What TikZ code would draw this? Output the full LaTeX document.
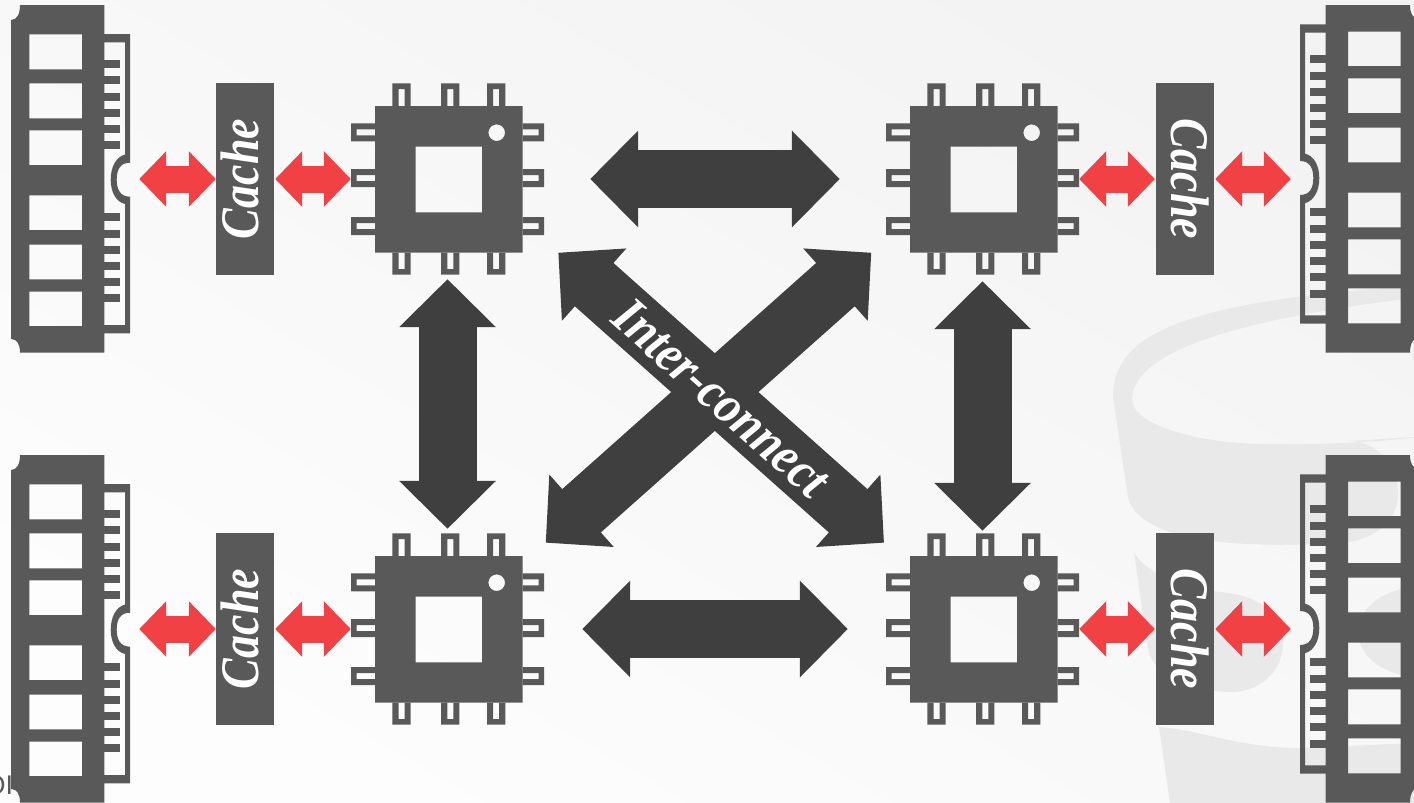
\documentclass[tikz,border=0pt]{standalone}
\usepackage{graphicx}
\usepackage{fontspec}
\setmainfont{Liberation Serif}
\setsansfont{Liberation Sans}
\usetikzlibrary{arrows.meta,positioning,calc}
\definecolor{chipgrey}{HTML}{595959}
\definecolor{arrowdark}{HTML}{3F3F3F}
\definecolor{linkred}{HTML}{F14145}
\definecolor{cupgrey}{HTML}{E9E9E9}
\definecolor{pagedark}{HTML}{F3F3F3}
\definecolor{pagelight}{HTML}{FDFDFD}

\begin{document}
\begin{tikzpicture}[
  x=1pt,
  y=-1pt,
  bigarrow/.style={
    line width=58pt,
    color=arrowdark,
    arrows={Triangle[length=48pt,width=94pt]-Triangle[length=48pt,width=94pt]}
  },
  redarrow/.style={
    line width=27pt,
    color=linkred,
    arrows={Triangle[length=27pt,width=54pt]-Triangle[length=27pt,width=54pt]}
  },
  chipnode/.style={
    minimum width=193pt,
    minimum height=192pt,
    inner sep=0pt
  },
  ramnode/.style={
    minimum width=119pt,
    minimum height=348pt,
    inner sep=0pt
  },
  cachebox/.style={
    fill=chipgrey,
    text=white,
    minimum width=192pt,
    minimum height=58pt,
    inner sep=0pt,
    text height=26.6pt,
    text depth=0pt,
    font=\fontsize{46pt}{50pt}\selectfont\bfseries\itshape
  },
  chipicon/.pic={
    \fill[chipgrey, even odd rule] (-72.5,-73) rectangle (75.2,73.7)
      (-31.8,-32.3) rectangle (34.5,33.3)
      (49.2,-46.3) circle (8.3pt);
    \foreach \pinpos in {-46,2.8,48.7} {
      \fill[chipgrey, even odd rule] (\pinpos-9.1,-95.7) rectangle (\pinpos+9.1,-73)
        (\pinpos-3,-90) rectangle (\pinpos+3,-73);
      \fill[chipgrey, even odd rule] (\pinpos-9.1,73.7) rectangle (\pinpos+9.1,95.5)
        (\pinpos-3,73.7) rectangle (\pinpos+3,90);
    }
    \foreach \pinpos in {-46.7,-1,47} {
      \fill[chipgrey, even odd rule] (-96.5,\pinpos-9) rectangle (-72.5,\pinpos+9)
        (-90.8,\pinpos-3) rectangle (-72.5,\pinpos+3);
      \fill[chipgrey, even odd rule] (75.2,\pinpos-9) rectangle (96.5,\pinpos+9)
        (75.2,\pinpos-3) rectangle (91.2,\pinpos+3);
    }
  },
  ramicon/.pic={
    \fill[chipgrey, even odd rule]
      (11,20) .. controls (17,20) and (20,14) .. (20,5) -- (104.3,5) -- (104.3,34) -- (130,34)
      -- (130,162.7) .. controls (120,162.7) and (116.7,170) .. (116.7,179.7)
      .. controls (116.7,189) and (120,196.7) .. (130,196.7)
      -- (130,333.3) -- (104.3,333.3) -- (104.3,352.7) -- (20,352.7)
      .. controls (20,344) and (17,339) .. (11,339) -- cycle
      (104.3,42.3) -- (125,42.3) -- (125,154.5) .. controls (116,157) and (110.7,167) .. (110.7,179.7)
      .. controls (110.7,192) and (116,202) .. (125,204) -- (125,325) -- (104.3,325) -- cycle
      (29.3,34.3) rectangle (82,69.3)
      (29.3,83.3) rectangle (82,118.3)
      (29.3,130.3) rectangle (82,165)
      (29.3,195.3) rectangle (82,230)
      (29.3,244.7) rectangle (82,279.3)
      (29.3,291.7) rectangle (82,326);
    \foreach \toothpos in {60,76.3,92.7,108.7,124.7,141.3,213.3,229.7,246,262,278,294.3} {
      \fill[chipgrey] (104,\toothpos) rectangle (119.7,\toothpos+8);
    }
  }
]
  \useasboundingbox (0,0) rectangle (1414,803);
  \clip (0,0) rectangle (1414,803);

  % ---------------------------------------------------------------------------
  % PAGE BACKGROUND AND CUP WATERMARK
  % ---------------------------------------------------------------------------
  \shade[top color=pagedark, bottom color=pagelight, shading angle=-30] (0,0) rectangle (1414,803);

  \fill[cupgrey, even odd rule]
    (1113,397) .. controls (1113,335) and (1180,300) .. (1430,285) -- (1430,436) -- (1350,441)
    .. controls (1375,441) and (1398,465) .. (1398,493)
    .. controls (1398,525) and (1370,541) .. (1340,543)
    .. controls (1250,548) and (1140,545) .. (1128,497) -- cycle
    (1132,398) .. controls (1135,355) and (1220,320) .. (1430,296) -- (1430,436)
    .. controls (1350,445) and (1310,444) .. (1267,444)
    .. controls (1200,444) and (1130,425) .. (1132,398) -- cycle;
  \fill[cupgrey] (1134,552) .. controls (1140,565) and (1165,585) .. (1220,592)
    .. controls (1260,595) and (1283,615) .. (1283,643)
    .. controls (1283,675) and (1255,692) .. (1233,692)
    .. controls (1200,692) and (1155,680) .. (1148,650) -- cycle;
  \fill[cupgrey] (1420,632) ellipse (62pt and 45pt);
  \fill[cupgrey] (1159,727) .. controls (1200,730) and (1240,748) .. (1300,748)
    -- (1414,743) -- (1414,803) -- (1170,803) -- cycle;

  % cut-off text at the page corner
  \node[anchor=west, inner sep=0pt, text=chipgrey, font=\sffamily\fontsize{27pt}{30pt}\selectfont] (cornertext) at (-15.5,785) {OI};

  % ---------------------------------------------------------------------------
  % CORES
  % ---------------------------------------------------------------------------
  \node[chipnode] (chipa) at (447.5,179) {};
  \node[chipnode] (chipb) at (982.5,179) {};
  \node[chipnode] (chipc) at (447.5,629) {};
  \node[chipnode] (chipd) at (982.5,629) {};
  \pic at (chipa) {chipicon};
  \pic at (chipb) {chipicon};
  \pic at (chipc) {chipicon};
  \pic at (chipd) {chipicon};

  % ---------------------------------------------------------------------------
  % MEMORY MODULES
  % ---------------------------------------------------------------------------
  \node[ramnode] (rama) at (70.5,179) {};
  \node[ramnode] (ramb) at (1359.5,179) {};
  \node[ramnode] (ramc) at (70.5,629) {};
  \node[ramnode] (ramd) at (1359.5,629) {};
  \pic at (0,0) {ramicon};
  \pic at (0,450) {ramicon};
  \pic[rotate=180] at (1430,357.7) {ramicon};
  \pic[rotate=180] at (1430,807.7) {ramicon};

  % ---------------------------------------------------------------------------
  % CACHES
  % ---------------------------------------------------------------------------
  \node[cachebox, rotate=90] (cachea) at (245,179) {\scalebox{1}[1.18]{Cache}};
  \node[cachebox, rotate=-90] (cacheb) at (1185,179) {\scalebox{1}[1.18]{Cache}};
  \node[cachebox, rotate=90] (cachec) at (245,629) {\scalebox{1}[1.18]{Cache}};
  \node[cachebox, rotate=-90] (cached) at (1185,629) {\scalebox{1}[1.18]{Cache}};

  % ---------------------------------------------------------------------------
  % MEMORY LINKS
  % ---------------------------------------------------------------------------
  \draw[redarrow, shorten <=9pt] (rama) -- (cachea);
  \draw[redarrow, shorten <=1pt] (cachea) -- (chipa);
  \draw[redarrow, shorten >=1pt] (chipb) -- (cacheb);
  \draw[redarrow, shorten <=1pt, shorten >=9pt] (cacheb) -- (ramb);
  \draw[redarrow, shorten <=9pt] (ramc) -- (cachec);
  \draw[redarrow, shorten <=1pt] (cachec) -- (chipc);
  \draw[redarrow, shorten >=1pt] (chipd) -- (cached);
  \draw[redarrow, shorten <=1pt, shorten >=9pt] (cached) -- (ramd);

  % ---------------------------------------------------------------------------
  % INTERCONNECT
  % ---------------------------------------------------------------------------
  \draw[bigarrow, shorten <=46pt, shorten >=46pt] (chipa) -- (chipb);
  \draw[bigarrow, shorten <=38pt, shorten >=38pt] (chipc) -- (chipd);
  \draw[bigarrow, shorten <=4pt, shorten >=4pt] (chipa) -- (chipc);
  \draw[bigarrow, shorten <=6pt, shorten >=2pt] (chipb) -- (chipd);

  \coordinate (crossa) at (558.3,252.7);
  \coordinate (crossd) at (884,542.7);
  \coordinate (crossb) at (871.3,252.7);
  \coordinate (crossc) at (545.7,542.7);
  \draw[bigarrow] (crossb) -- (crossc);
  \draw[bigarrow] (crossa) -- (crossd)
    node[midway, sloped, text=white, inner sep=0pt, font=\fontsize{48pt}{54pt}\selectfont\bfseries\itshape] (crosslabel) {\scalebox{1}[1.12]{Inter-connect}};
\end{tikzpicture}
\end{document}
